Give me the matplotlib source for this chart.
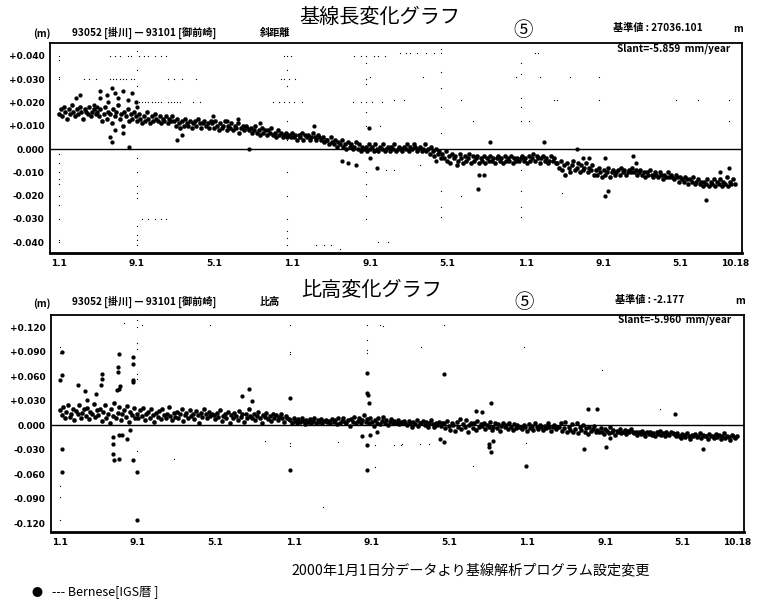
import numpy as np
import matplotlib
matplotlib.use("Agg")
import matplotlib.pyplot as plt

plt.rcParams["font.family"] = ["Noto Sans CJK JP", "DejaVu Sans"]

W, H = 765, 603
START = np.datetime64("1998-01-01")
STEP_DAYS = 5

tick_dates = ["1998-01-01", "1998-09-01", "1999-05-01", "2000-01-01", "2000-09-01",
              "2001-05-01", "2002-01-01", "2002-09-01", "2003-05-01", "2003-10-18"]
tick_labels = ["1.1", "9.1", "5.1", "1.1", "9.1", "5.1", "1.1", "9.1", "5.1", "10.18"]

# 斜距離 residuals (mm), one value every 5 days from 1998-01-01
slant_mm = [
    15, 17, 14, 18, 16, 13, 17, 15, 19, 16, 14, 17, 15, 18, 16, 13, 17, 16, 15, 18, 14, 16, 17, 15,
    16, 14, 17, 12, 15, 18, 13, 16, 15, 11, 17, 14, 16, 19, 13, 15, 10, 16, 14, 17, 12, 15, 13, 16,
    14, 12, 15, 13, 11, 14, 12, 16, 13, 11, 14, 12, 15, 13, 12, 14, 11, 13, 12, 14, 11, 13, 12, 14,
    12, 10, 13, 11, 9, 12, 10, 13, 11, 10, 12, 9, 11, 12, 10, 13, 11, 9, 11, 12, 10, 11, 9, 12,
    11, 9, 12, 10, 8, 11, 9, 10, 12, 8, 10, 9, 11, 8, 10, 9, 11, 7, 9, 10, 8, 10, 9, 8,
    9, 7, 8, 10, 7, 8, 6, 9, 7, 8, 6, 8, 7, 9, 6, 7, 5, 8, 6, 7, 5, 6, 7, 5,
    6, 5, 7, 5, 6, 4, 6, 5, 7, 4, 6, 5, 6, 4, 5, 7, 5, 4, 6, 5, 4, 5, 3, 4,
    4, 2, 5, 3, 2, 4, 1, 3, 2, 4, 1, 2, 0, 3, 1, 2, 0, 1, 3, 0, 2, -1, 1, 0,
    1, -1, 2, 0, 1, -1, 2, 0, -1, 1, 0, 2, -1, 0, 1, -1, 1, 0, 2, -1, 0, 1, 0, -1,
    1, 0, 2, -1, 1, 0, 2, 1, -1, 0, 1, -1, 0, 2, -1, 0, -2, 1, -1, -3, 0, -2, -1, -4,
    -2, -4, -1, -5, -3, -6, -2, -4, -3, -7, -5, -2, -4, -6, -3, -5, -4, -2, -6, -3, -5, -4, -3, -6,
    -4, -5, -3, -6, -4, -5, -3, -5, -4, -6, -4, -3, -5, -4, -6, -3, -5, -4, -5, -3, -6, -4, -5, -4,
    -5, -4, -3, -5, -4, -6, -3, -5, -4, -2, -5, -3, -4, -6, -4, -3, -5, -4, -6, -5, -3, -5, -4, -6,
    -6, -8, -5, -9, -7, -11, -6, -8, -10, -7, -5, -9, -8, -6, -10, -7, -9, -8, -6, -10, -8, -9, -7, -11,
    -9, -11, -8, -10, -12, -9, -11, -10, -8, -12, -10, -9, -11, -10, -9, -11, -8, -10, -9, -11, -10, -9, -10, -8,
    -10, -9, -11, -10, -9, -11, -10, -12, -10, -11, -9, -11, -12, -10, -11, -12, -10, -11, -13, -11, -12, -10, -12, -11,
    -12, -13, -11, -12, -14, -12, -13, -14, -12, -13, -15, -13, -14, -12, -15, -14, -13, -15, -14, -16, -14, -15, -13, -16,
    -14, -15, -13, -16, -14, -15, -13, -16, -14, -15, -12, -16, -14, -15, -13, -15,
]

# 比高 residuals (mm), one value every 5 days from 1998-01-01
height_mm = [
    18, 12, 22, 8, 16, 25, 10, 14, 20, 6, 17, 13, 24, 9, 15, 19, 11, 21, 7, 16, 13, 26, 10, 18,
    12, 20, 5, 16, 24, 9, 14, 3, 19, 11, 27, 8, 15, 22, 6, 13, 18, 10, 23, 4, 16, 12, 21, 9,
    14, 8, 18, 11, 21, 6, 13, 16, 9, 19, 12, 4, 15, 10, 17, 7, 20, 12, 9, 14, 22, 11, 6, 15,
    10, 16, 8, 13, 19, 5, 12, 15, 9, 18, 11, 14, 7, 17, 12, 3, 15, 10, 20, 13, 8, 16, 11, 14,
    12, 7, 15, 10, 18, 5, 11, 14, 8, 16, 2, 12, 9, 15, 11, 6, 17, 10, 13, 4, 14, 9, 19, 11,
    8, 13, 6, 11, 16, 9, 3, 12, 10, 15, 7, 11, 5, 14, 9, 12, 6, 10, 13, 8, 4, 11, 9, 7,
    6, 3, 8, 5, 2, 7, 4, 9, 5, 1, 6, 4, 7, 3, 5, 8, 2, 6, 4, 7, 3, 5, 6, 4,
    5, 2, 7, 4, 6, 1, 8, 3, 5, 9, 4, 2, 6, -1, 7, 4, 10, 3, 5, 8, 2, 6, 12, 4,
    7, 2, 9, 4, -1, 6, 3, 8, 1, 5, 10, 3, 6, 0, 4, 7, 2, 5, 3, 6, 1, 4, 2, 5,
    3, 0, 5, 2, -2, 4, 1, 6, -1, 3, 2, 5, 0, 4, -2, 2, 6, 1, -3, 3, 0, 4, -1, 2,
    2, -4, 5, -1, -6, 3, 0, -7, 4, -2, 7, -5, 1, -3, 6, -8, 0, 3, -4, 2, -6, 5, -2, 1,
    -1, 3, -5, 0, -3, 4, -6, -2, 2, -4, 1, -7, -1, 3, -3, 0, -5, 2, -2, -6, 1, -4, 0, -3,
    -2, -5, 0, -3, -7, 1, -4, -1, -6, 2, -3, -5, 0, -2, -6, -1, -4, 3, -3, -7, -2, 0, -5, -3,
    -3, 2, -7, -4, 4, -9, -2, -6, 1, -8, -5, 3, -10, -3, -6, 0, -8, -4, -11, -2, -7, -5, -1, -9,
    -6, -9, -4, -8, -11, -5, -7, -10, -3, -8, -6, -12, -7, -9, -5, -10, -8, -6, -11, -7, -9, -5, -8, -10,
    -9, -12, -8, -11, -7, -10, -13, -9, -11, -8, -12, -10, -14, -9, -11, -7, -12, -10, -13, -9, -11, -12, -8, -10,
    -11, -14, -10, -13, -16, -11, -12, -15, -10, -13, -17, -12, -14, -11, -15, -13, -10, -16, -12, -14, -13, -17, -11, -14,
    -13, -16, -11, -15, -12, -17, -14, -10, -16, -13, -15, -18, -12, -14, -16, -13,
]

# scattered solutions (day offset, mm)
slant_big = [
    (130, 25), (130, 22), (150, 23), (155, 20), (165, 26), (175, 24), (185, 22), (200, 25),
    (215, 21), (230, 24), (240, 20), (245, 18), (53, 22), (66, 23), (110, 19), (120, 18),
    (161, 5), (165, 3), (220, 1), (175, 8), (200, 7), (369, 4), (385, 6), (481, 14), (525, 12),
    (559, 13), (596, 0), (630, 11), (798, 10), (885, -5), (905, -6), (930, -7), (969, 9),
    (994, -8), (975, -4), (1180, -5), (1311, -17), (1315, -11), (1330, -11), (1348, 3),
    (1518, 3), (1621, 0), (1640, -4), (1660, -4), (1708, -4), (1708, -20), (1720, -18),
    (1798, -3), (1805, -6), (2025, -22), (2096, -8), (2070, -10),
]
slant_tiny = [
    (0, 40), (0, 38), (0, 30), (0, 31), (0, -2), (0, -6), (0, -10), (0, -13), (0, -15),
    (0, -20), (0, -24), (0, -30), (0, -39), (0, -40),
    (160, 40), (175, 40), (190, 40), (215, 40), (225, 40), (250, 40), (265, 40), (280, 40),
    (300, 40), (320, 40), (335, 40),
    (245, 42), (245, 34), (245, 27), (245, -4), (245, -10), (245, -16), (245, -19), (245, -21),
    (245, -33), (245, -37), (245, -39), (245, -41),
    (78, 30), (95, 30), (115, 30), (160, 30), (170, 30), (180, 30), (190, 30), (200, 30),
    (210, 30), (225, 30), (235, 30), (340, 30), (360, 30), (385, 30), (430, 30),
    (250, 20), (260, 20), (270, 20), (280, 20), (290, 20), (300, 20), (310, 20), (320, 20),
    (340, 20), (350, 20), (360, 20), (370, 20), (380, 20), (420, 20), (440, 20),
    (260, -30), (280, -30), (300, -30), (320, -30), (335, -30),
    (705, 40), (715, 40), (725, 40), (714, 34), (695, 30), (705, 30), (720, 30), (740, 30),
    (714, 27), (670, 20), (690, 20), (705, 20), (720, 20), (735, 20), (760, 20), (714, 12),
    (714, 4), (714, -10), (714, -20), (714, -30), (714, -35), (714, -38), (714, -41),
    (804, -41), (830, -41), (850, -41), (880, -43),
    (925, 40), (945, 40), (960, 40), (985, 40), (1000, 40), (1020, 40), (960, 37), (960, 30),
    (975, 31), (960, 28), (920, 20), (945, 20), (960, 20), (980, 20), (1010, 20), (960, 16),
    (960, 10), (1005, 10), (960, -10), (960, -15), (960, -20), (960, -30), (1000, -40),
    (1030, -40), (1025, -9), (1050, -9),
    (1068, 41), (1085, 41), (1100, 41), (1120, 41), (1150, 41), (1175, 41),
    (1196, 43), (1196, 41), (1196, 33), (1196, 26), (1196, 18), (1196, 7), (1196, -18),
    (1196, -25), (1196, -29), (1140, 31), (1258, 21), (1258, -20), (1050, 21), (1080, 21),
    (1130, -7),
    (1447, 37), (1447, 32), (1447, 22), (1447, 18), (1447, 12), (1447, -9), (1447, -18),
    (1447, -25), (1447, -29), (1491, 41), (1500, 41), (1430, 31), (1506, 31), (1600, 31),
    (1690, 31), (1550, 21), (1560, 21), (1690, 21), (1931, 21), (2000, 21), (2096, 21),
    (2096, 12), (1472, 12), (1295, 12), (1574, -19),
]
height_big = [
    (6, 89), (6, 61), (0, 55), (6, -29), (6, -58), (56, 49), (78, 42), (85, 31), (112, 38),
    (130, 62), (130, 56), (128, 49), (186, 87), (180, 71), (182, 65), (183, 44), (178, 43),
    (188, 48), (227, 83), (228, 75), (228, 55), (228, 53), (167, -15), (165, -23), (167, -35),
    (170, -43), (186, -42), (186, -12), (195, -12), (210, -17), (227, -43), (240, -58),
    (240, -116), (220, -6), (590, 44), (570, 35), (600, 30), (720, 33), (720, -55), (960, 64),
    (960, 39), (962, 37), (965, 27), (960, -55), (960, -24), (945, -14), (970, -12),
    (990, -8), (1199, 62), (1348, 27), (1348, -33), (1340, -23), (1342, -27), (1355, -20),
    (1187, -17), (1200, -21), (1457, -50), (1637, -29), (1708, -27), (1650, 19), (1680, 19),
    (1720, -16), (1922, 13), (2009, -29), (1300, 17), (1320, 16),
]
height_tiny = [
    (0, 95), (0, 88), (0, -75), (0, -88), (0, -116), (242, 128), (242, 120), (255, 122),
    (242, 100), (242, 93), (242, 62), (242, 56), (242, -32), (357, -42), (200, 125),
    (720, 122), (720, 90), (720, 87), (720, -22), (720, -26), (960, 122), (960, 104),
    (960, 92), (960, 88), (1000, 122), (1010, 121), (985, -24), (1045, -24), (1065, -24),
    (985, -51), (870, -21), (823, -100), (1199, 122), (1130, 96), (1450, 96), (1693, 67),
    (1876, 20), (1068, -23), (1124, -23), (1155, -23), (1292, -50), (1457, -22), (640, -20),
    (470, 122),
]

slant_ticks = [0.04, 0.03, 0.02, 0.01, 0.0, -0.01, -0.02, -0.03, -0.04]
height_ticks = [0.12, 0.09, 0.06, 0.03, 0.0, -0.03, -0.06, -0.09, -0.12]


def to_dates(days):
    return START + np.asarray(days, dtype="int64").astype("timedelta64[D]")


def fmt_tick(v):
    if abs(v) < 1e-9:
        return "0.000"
    return f"{v:+.3f}"


def draw_panel(ax, band_mm, big, tiny, ylim, yticks):
    band_days = np.arange(len(band_mm)) * STEP_DAYS
    ax.plot(to_dates(band_days), np.array(band_mm) / 1000.0, "o", ms=3.1,
            color="black", mew=0.2, ls="none")
    bd, bv = zip(*big)
    ax.plot(to_dates(bd), np.array(bv) / 1000.0, "o", ms=2.8, color="black",
            mew=0.2, ls="none")
    td, tv = zip(*tiny)
    ax.plot(to_dates(td), np.array(tv) / 1000.0, "o", ms=0.9, color="black",
            mew=0, ls="none")
    ax.axhline(0.0, color="black", lw=1.0)

    ax.set_xlim(START - np.timedelta64(28, "D"), START + np.timedelta64(2138, "D"))
    ax.set_ylim(*ylim)
    ax.set_xticks(np.array(tick_dates, dtype="datetime64[D]"))
    ax.set_xticklabels(tick_labels)
    ax.set_yticks(yticks)
    ax.set_yticklabels([fmt_tick(v) for v in yticks])
    ax.tick_params(length=0, pad=4, labelsize=6.5)
    for lab in ax.get_xticklabels() + ax.get_yticklabels():
        lab.set_fontweight("bold")
        lab.set_family("DejaVu Sans")
    for side in ["top", "left", "right"]:
        ax.spines[side].set_linewidth(1.3)
    ax.spines["bottom"].set_linewidth(2.0)


def px(x, y):
    return x / W, 1 - y / H


fig = plt.figure(figsize=(W / 100, H / 100), dpi=100)

ax1 = fig.add_axes([50 / W, 1 - 253 / H, 692 / W, 210 / H])
draw_panel(ax1, slant_mm, slant_big, slant_tiny, (-0.0446, 0.0455), slant_ticks)

ax2 = fig.add_axes([51 / W, 1 - 532 / H, 693 / W, 217 / H])
draw_panel(ax2, height_mm, height_big, height_tiny, (-0.131, 0.1347), height_ticks)

small = dict(fontsize=7.3, fontweight="bold", va="center")

# top panel header
fig.text(*px(380, 17), "基線長変化グラフ", fontsize=14.5, ha="center", va="center")
fig.text(*px(523, 31), "⑤", fontsize=14, ha="center", va="center")
fig.text(*px(33, 34), "(m)", **small)
fig.text(*px(72, 33), "93052 [掛川] — 93101 [御前崎]", **small)
fig.text(*px(260, 33), "斜距離", **small)
fig.text(*px(613, 28), "基準値 : 27036.101", **small)
fig.text(*px(733, 29), "m", **small)
fig.text(*px(617, 49), "Slant=-5.859  mm/year", **small)

# bottom panel header
fig.text(*px(372, 291), "比高変化グラフ", fontsize=14.5, ha="center", va="center")
fig.text(*px(524, 302), "⑤", fontsize=14, ha="center", va="center")
fig.text(*px(33, 304), "(m)", **small)
fig.text(*px(72, 302), "93052 [掛川] — 93101 [御前崎]", **small)
fig.text(*px(260, 302), "比高", **small)
fig.text(*px(615, 300), "基準値 : -2.177", **small)
fig.text(*px(735, 301), "m", **small)
fig.text(*px(618, 320), "Slant=-5.960  mm/year", **small)

# notes
fig.text(*px(471, 570), "2000年1月1日分データより基線解析プログラム設定変更",
         fontsize=10.2, ha="center", va="center")
fig.text(*px(37, 593), "●", fontsize=8, ha="center", va="center")
fig.text(*px(52, 592), "--- Bernese[IGS暦 ]", fontsize=9, va="center")

fig.savefig("out.png", dpi=100)
